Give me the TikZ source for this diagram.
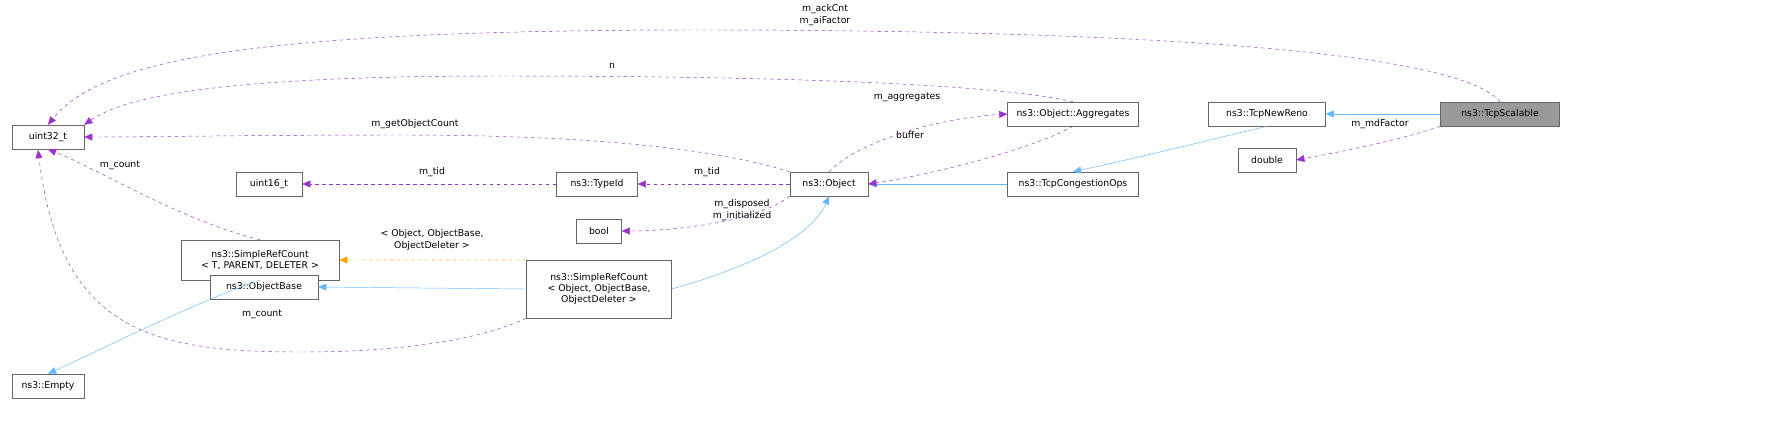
\documentclass[tikz,border=0pt]{standalone}
\usepackage{fontspec}
\setmainfont{DejaVu Sans}
\usetikzlibrary{arrows.meta}
\definecolor{purp}{HTML}{9A32CD}
\definecolor{blu}{HTML}{63B8FF}
\definecolor{org}{HTML}{FFA500}
\newlength{\px}\setlength{\px}{0.859pt}
\tikzset{
 box/.style={draw=black!60,fill=white,inner sep=1pt,minimum height=24\px,font=\fontsize{8}{9.6}\selectfont,align=center},
 mem/.style={draw=purp,dashed,-{Triangle[length=7pt,width=6pt]}},
 inh/.style={draw=blu,-{Triangle[length=7pt,width=6pt]}},
 tpl/.style={draw=org,dashed,-{Triangle[length=7pt,width=6pt]}},
 lab/.style={font=\fontsize{8}{9.6}\selectfont,align=center,inner sep=1pt}
}
\begin{document}
\begin{tikzpicture}[x=0.859pt,y=-0.859pt]
\node[box,minimum width=72\px] (u32) at (48,137) {uint32\_t};
\node[box,minimum width=66\px] (u16) at (269,184) {uint16\_t};
\node[box,minimum width=158\px,minimum height=40\px] (srct) at (260,260) {ns3::SimpleRefCount\\< T, PARENT, DELETER >};
\node[box,minimum width=72\px] (empty) at (48,386) {ns3::Empty};
\node[box,minimum width=108\px] (obase) at (264,287) {ns3::ObjectBase};
\node[box,minimum width=81\px] (tid) at (597,184) {ns3::TypeId};
\node[box,minimum width=45\px] (bool) at (599,231) {bool};
\node[box,minimum width=145\px,minimum height=58\px] (srco) at (599,289) {ns3::SimpleRefCount\\< Object, ObjectBase,\\ObjectDeleter >};
\node[box,minimum width=78\px] (obj) at (829,184) {ns3::Object};
\node[box,minimum width=131\px] (agg) at (1073,114) {ns3::Object::Aggregates};
\node[box,minimum width=131\px] (tco) at (1073,184) {ns3::TcpCongestionOps};
\node[box,minimum width=117\px] (nr) at (1267,114) {ns3::TcpNewReno};
\node[box,minimum width=58\px] (dbl) at (1267,160) {double};
\node[box,minimum width=119\px,fill=black!40] (scal) at (1500,114) {ns3::TcpScalable};

\draw[mem] (scal.north) .. controls (1450,40) and (1000,30) .. (700,30) .. controls (250,30) and (100,60) .. (u32.north);
\node[lab] at (825,15) {m\_ackCnt\\m\_aiFactor};
\draw[mem] (scal.south west) .. controls (1400,140) and (1350,150) .. (dbl.east);
\node[lab] at (1380,124) {m\_mdFactor};
\draw[inh] (scal) -- (nr);
\draw[inh] (nr.south) .. controls (1230,135) and (1150,155) .. (tco.north);
\draw[inh] (tco) -- (obj);
\draw[mem] (agg.north) .. controls (1000,85) and (800,76) .. (500,76) .. controls (200,76) and (120,100) .. (u32.north east);
\node[lab] at (612,66) {n};
\draw[mem] (agg.south) .. controls (1030,150) and (930,175) .. (obj.east);
\node[lab] at (910,135) {buffer};
\draw[mem] (obj.north) .. controls (860,140) and (940,118) .. (agg.west);
\node[lab] at (907,97) {m\_aggregates};
\draw[mem] (obj.north west) .. controls (720,150) and (600,135) .. (400,135) .. controls (250,135) and (150,137) .. (u32.east);
\node[lab] at (415,124) {m\_getObjectCount};
\draw[mem] (obj.west) -- (tid.east);
\node[lab] at (707,172) {m\_tid};
\draw[mem] (obj.south west) .. controls (760,220) and (680,231) .. (bool.east);
\node[lab] at (742,210) {m\_disposed\\m\_initialized};
\draw[inh] (srco.east) .. controls (740,270) and (810,240) .. (obj.south);
\draw[mem] (tid.west) -- (u16.east);
\node[lab] at (432,172) {m\_tid};
\draw[mem] (srct.north) .. controls (180,220) and (100,170) .. (u32.south);
\node[lab] at (120,165) {m\_count};
\draw[tpl] (srco.north west) -- (srct.east);
\node[lab] at (432,240) {< Object, ObjectBase,\\ObjectDeleter >};
\draw[inh] (srco.west) -- (obase.east);
\draw[inh] (srct.south) .. controls (200,300) and (100,350) .. (empty.north);
\draw[mem] (srco.south west) .. controls (480,340) and (400,352) .. (300,352) .. controls (150,352) and (60,330) .. (38,150);
\node[lab] at (262,314) {m\_count};
\pgfresetboundingbox
\path[use as bounding box] (0,0) rectangle (1771,425);
\end{tikzpicture}
\end{document}
